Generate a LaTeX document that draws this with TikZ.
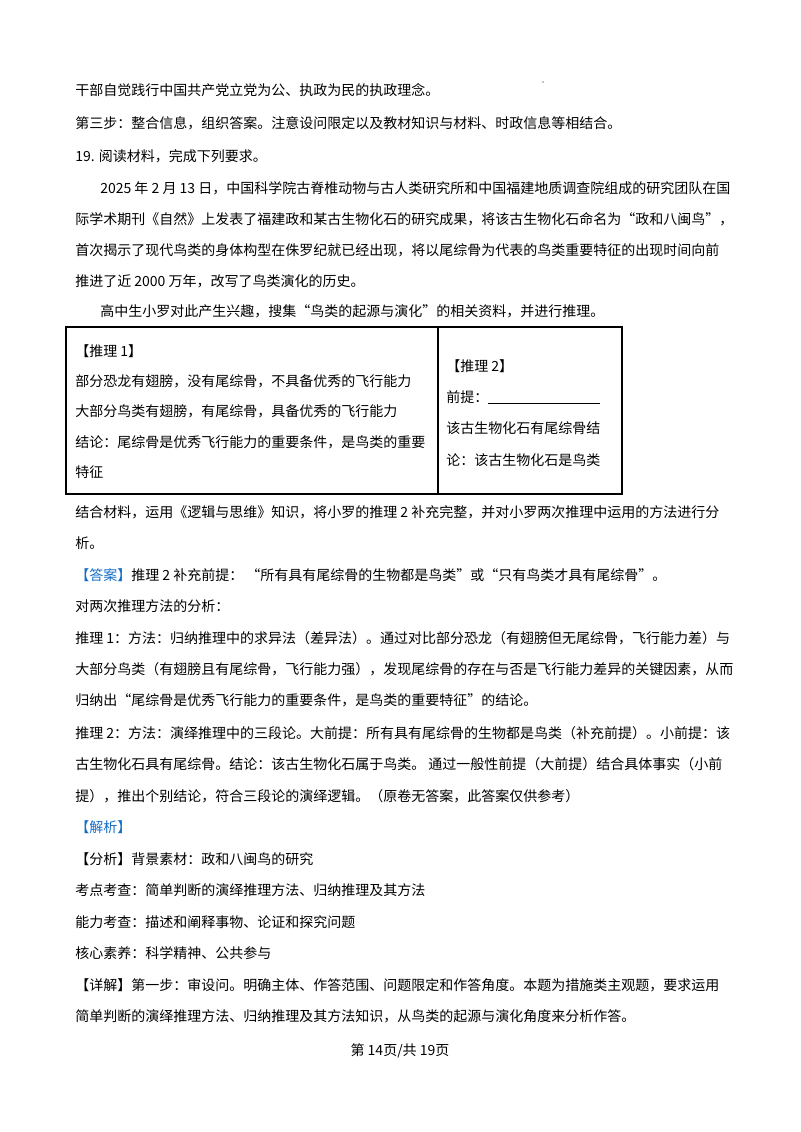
\documentclass[tikz,border=0pt]{standalone}
\usepackage{fontspec}
\setmainfont{Noto Sans CJK SC}
\XeTeXlinebreaklocale "zh"
\definecolor{ansblue}{RGB}{20,110,200}
\tikzset{ln/.style={anchor=west,inner sep=0pt,font=\fontsize{10.5pt}{12pt}\selectfont},
 tag/.style={text=ansblue}}
\begin{document}
\begin{tikzpicture}[x=0.75pt,y=-0.75pt]
\useasboundingbox[fill=white] (0,0) rectangle (800,1132);
\fill (543,82) circle (0.6);
\node[ln] (l1) at (75,90) {干部自觉践行中国共产党立党为公、执政为民的执政理念。};
\node[ln] (l2) at (75,123) {第三步：整合信息，组织答案。注意设问限定以及教材知识与材料、时政信息等相结合。};
\node[ln] (l3) at (75,156) {19. 阅读材料，完成下列要求。};
\node[ln] (l4) at (100,188) {2025 年 2 月 13 日，中国科学院古脊椎动物与古人类研究所和中国福建地质调查院组成的研究团队在国};
\node[ln] (l5) at (75,219) {际学术期刊《自然》上发表了福建政和某古生物化石的研究成果，将该古生物化石命名为“政和八闽鸟”，};
\node[ln] (l6) at (75,250) {首次揭示了现代鸟类的身体构型在侏罗纪就已经出现，将以尾综骨为代表的鸟类重要特征的出现时间向前};
\node[ln] (l7) at (75,281) {推进了近 2000 万年，改写了鸟类演化的历史。};
\node[ln] (l8) at (100,311) {高中生小罗对此产生兴趣，搜集“鸟类的起源与演化”的相关资料，并进行推理。};
\draw[line width=0.9pt] (66,327) rectangle (622,494);
\draw[line width=0.9pt] (438,327) -- (438,494);
\node[ln] (t1) at (75,351) {【推理 1】};
\node[ln] (t2) at (75,381) {部分恐龙有翅膀，没有尾综骨，不具备优秀的飞行能力};
\node[ln] (t3) at (75,411) {大部分鸟类有翅膀，有尾综骨，具备优秀的飞行能力};
\node[ln] (t4) at (75,442) {结论：尾综骨是优秀飞行能力的重要条件，是鸟类的重要};
\node[ln] (t5) at (75,472) {特征};
\node[ln] (r1) at (446,366) {【推理 2】};
\node[ln] (r2) at (446,397) {前提：};
\draw[line width=0.5pt] (488,403) -- (600,403);
\node[ln] (r3) at (446,428) {该古生物化石有尾综骨结};
\node[ln] (r4) at (446,460) {论：该古生物化石是鸟类};
\node[ln] (m1) at (75,512) {结合材料，运用《逻辑与思维》知识，将小罗的推理 2 补充完整，并对小罗两次推理中运用的方法进行分};
\node[ln] (m2) at (75,543) {析。};
\node[ln] (a1) at (75,575) {\textcolor{ansblue}{【答案】}推理 2 补充前提：\ “所有具有尾综骨的生物都是鸟类”或“只有鸟类才具有尾综骨”。};
\node[ln] (a2) at (75,606) {对两次推理方法的分析：};
\node[ln] (a3) at (75,638) {推理 1：方法：归纳推理中的求异法（差异法）。通过对比部分恐龙（有翅膀但无尾综骨，飞行能力差）与};
\node[ln] (a4) at (75,669) {大部分鸟类（有翅膀且有尾综骨，飞行能力强），发现尾综骨的存在与否是飞行能力差异的关键因素，从而};
\node[ln] (a5) at (75,700) {归纳出“尾综骨是优秀飞行能力的重要条件，是鸟类的重要特征”的结论。};
\node[ln] (a6) at (75,733) {推理 2：方法：演绎推理中的三段论。大前提：所有具有尾综骨的生物都是鸟类（补充前提）。小前提：该};
\node[ln] (a7) at (75,764) {古生物化石具有尾综骨。结论：该古生物化石属于鸟类。\ 通过一般性前提（大前提）结合具体事实（小前};
\node[ln] (a8) at (75,796) {提），推出个别结论，符合三段论的演绎逻辑。（原卷无答案，此答案仅供参考）};
\node[ln,tag] (j1) at (75,827) {【解析】};
\node[ln] (j2) at (75,859) {【分析】背景素材：政和八闽鸟的研究};
\node[ln] (j3) at (75,890) {考点考查：简单判断的演绎推理方法、归纳推理及其方法};
\node[ln] (j4) at (75,922) {能力考查：描述和阐释事物、论证和探究问题};
\node[ln] (j5) at (75,953) {核心素养：科学精神、公共参与};
\node[ln] (j6) at (75,985) {【详解】第一步：审设问。明确主体、作答范围、问题限定和作答角度。本题为措施类主观题，要求运用};
\node[ln] (j7) at (75,1016) {简单判断的演绎推理方法、归纳推理及其方法知识，从鸟类的起源与演化角度来分析作答。};
\node[ln,anchor=center] (ft) at (400,1051) {第 14页/共 19页};
\end{tikzpicture}
\end{document}
